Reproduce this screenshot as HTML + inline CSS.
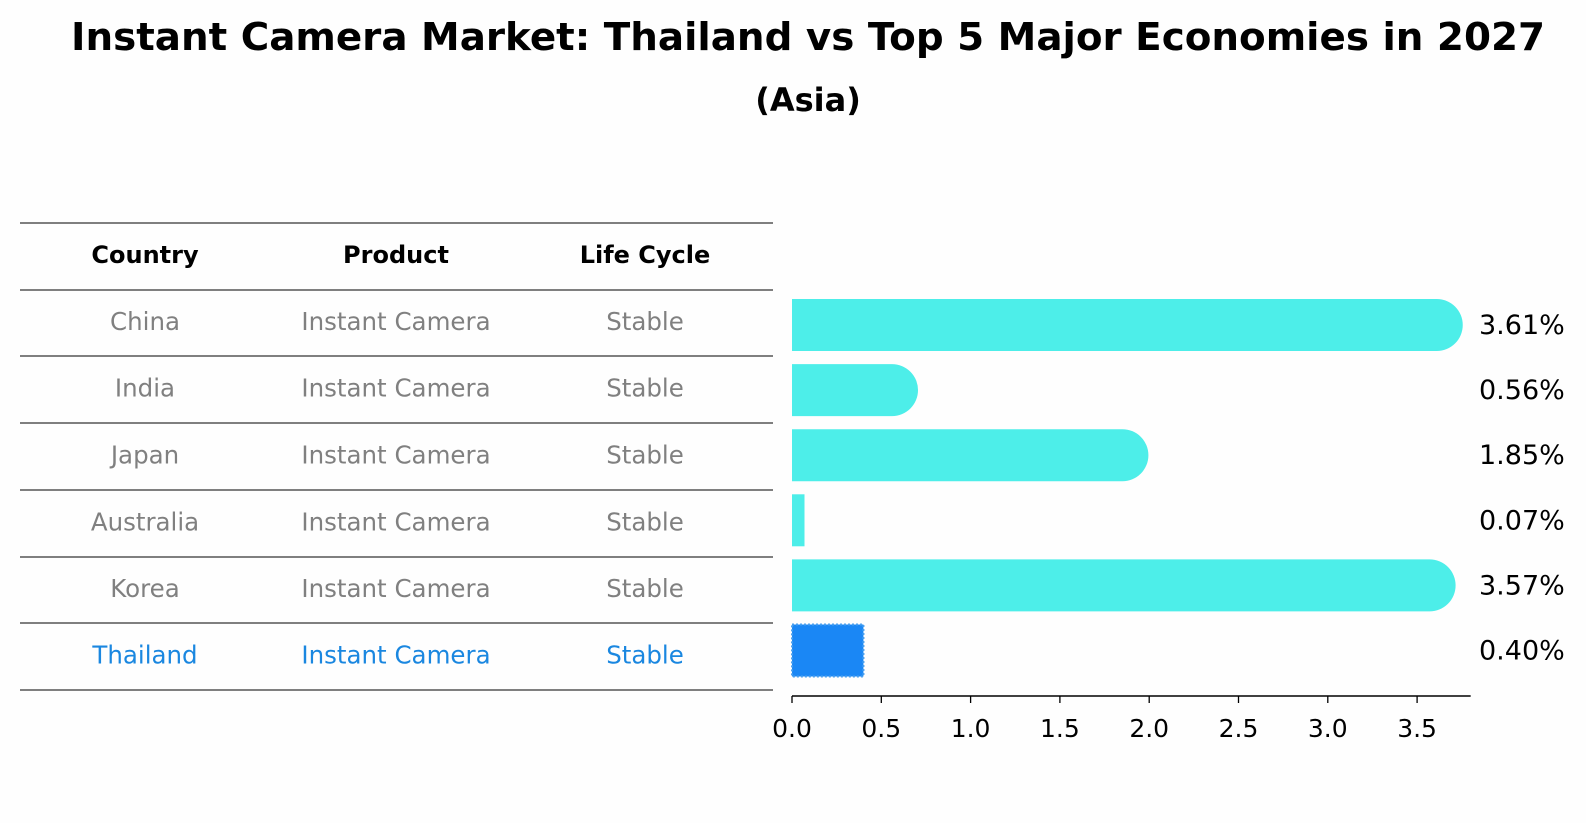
<!DOCTYPE html>
<html><head><meta charset="utf-8"><style>
html,body{margin:0;padding:0;background:#fefefe;}
svg{display:block;font-family:"DejaVu Sans","Liberation Sans",sans-serif;}
</style></head><body>
<svg id="chart" width="1586" height="823" viewBox="0 0 1586 823">
<text x="808" y="50" text-anchor="middle" font-size="38" font-weight="bold" textLength="1474" lengthAdjust="spacingAndGlyphs">Instant Camera Market: Thailand vs Top 5 Major Economies in 2027</text>
<text x="808" y="111" text-anchor="middle" font-size="32" font-weight="bold">(Asia)</text>
<g id="table"></g>
<g id="bars"></g>
</svg>
<script>
const countries=["China","India","Japan","Australia","Korea","Thailand"];
const products=["Instant Camera","Instant Camera","Instant Camera","Instant Camera","Instant Camera","Instant Camera"];
const lifecycles=["Stable","Stable","Stable","Stable","Stable","Stable"];
const values=[3.61,0.56,1.85,0.07,3.57,0.40];
const ticks=[0.0,0.5,1.0,1.5,2.0,2.5,3.0,3.5];
const highlight="Thailand";

const NS="http://www.w3.org/2000/svg";
function mk(tag,attrs,parent){const e=document.createElementNS(NS,tag);for(const k in attrs)e.setAttribute(k,attrs[k]);parent.appendChild(e);return e;}
const x0=792,scale=178.6,xMax=3.8;
const X=v=>x0+v*scale;
const barTop=299,pitch=65.1,barH=52;
const Y=i=>barTop+i*pitch;

// table
const tbl=document.getElementById('table');
const lines=[223,290,356,423,490,557,623,690];
lines.forEach((ly,i)=>{const l=mk('line',{x1:20,x2:773,y1:ly,y2:ly,stroke:'#000','stroke-width':1.1},tbl);

});
const cols=[145,396,645];
["Country","Product","Life Cycle"].forEach((h,j)=>{const t=mk('text',{x:cols[j],y:263,'text-anchor':'middle','font-size':24,'font-weight':'bold'},tbl);t.textContent=h;

});
countries.forEach((c,i)=>{
  const cy=(lines[i+1]+lines[i+2])/2+7;
  const col=c===highlight?'#1a87e0':'#808080';
  [c,products[i],lifecycles[i]].forEach((txt,j)=>{
    const t=mk('text',{x:cols[j],y:cy,'text-anchor':'middle','font-size':24.5,fill:col},tbl);t.textContent=txt;
    
    
  });
});

// bars
const g=document.getElementById('bars');
countries.forEach((c,i)=>{
  const y=Y(i),w=X(values[i])-x0,r=barH/2;
  let b;
  if(c===highlight){
    b=mk('rect',{x:x0,y:y,width:w,height:barH,fill:'#1a87f5',stroke:'#4aa0ef','stroke-width':2,'stroke-dasharray':'2,2'},g);
  }else if(w>r){
    b=mk('path',{d:`M${x0},${y} H${x0+w} A${r},${r} 0 0 1 ${x0+w},${y+barH} H${x0} Z`,fill:'#4deee9'},g);
  }else{
    b=mk('rect',{x:x0,y:y,width:w,height:barH,fill:'#4deee9'},g);
  }
  
  
  const t=mk('text',{x:1479,y:y+barH/2+9,'font-size':27},g);t.textContent=values[i].toFixed(2)+'%';
  
  
});
const ax=mk('line',{x1:x0,x2:X(xMax),y1:696,y2:696,stroke:'#000','stroke-width':1.5},g);


ticks.forEach(v=>{
  const tk=mk('line',{x1:X(v),x2:X(v),y1:696,y2:703,stroke:'#000','stroke-width':1.3},g);
  
  
  const t=mk('text',{x:X(v),y:737,'text-anchor':'middle','font-size':25},g);t.textContent=v.toFixed(1);
  
  
});
</script>
</body></html>
